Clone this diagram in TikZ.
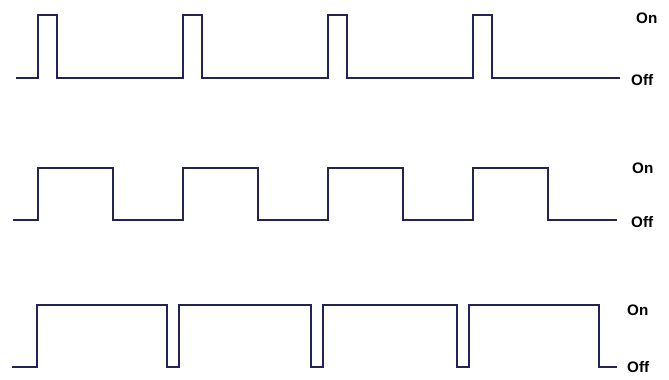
\documentclass[tikz,border=0pt]{standalone}
\usepackage{fontspec}
\setsansfont{Liberation Sans}
\usepackage{tikz}

\definecolor{wavenavy}{RGB}{36,36,84}

\tikzset{
  wave/.style={line width=2.5pt, wavenavy, line join=miter},
  level/.style={font=\sffamily\bfseries\fontsize{13}{15}\selectfont, text=black, anchor=west, inner sep=0pt}
}

\begin{document}
\begin{tikzpicture}[x=0.03cm, y=-0.03cm]
    \useasboundingbox (0,0) rectangle (669,379);

    % 1. Short pulses (low duty cycle)
    \draw[wave] (16,78) \foreach \t in {38,183,328,473} { -- (\t,78) -- (\t,15) -- (\t+19,15) -- (\t+19,78) } -- (620,78);
    \node[level] (on1) at (636,18) {On};
    \node[level] (off1) at (631,80) {Off};

    % 2. Half pulses (medium duty cycle)
    \draw[wave] (13,220) \foreach \t in {38,183,328,473} { -- (\t,220) -- (\t,168) -- (\t+75,168) -- (\t+75,220) } -- (617,220);
    \node[level] (on2) at (632,168) {On};
    \node[level] (off2) at (631,222) {Off};

    % 3. Long pulses (high duty cycle)
    \draw[wave] (12,367) -- (37,367) -- (37,305) \foreach \t in {167,311,457} { -- (\t,305) -- (\t,367) -- (\t+12,367) -- (\t+12,305) } -- (599,305) -- (599,367) -- (617,367);
    \node[level] (on3) at (627,310) {On};
    \node[level] (off3) at (627,367) {Off};

\end{tikzpicture}
\end{document}
